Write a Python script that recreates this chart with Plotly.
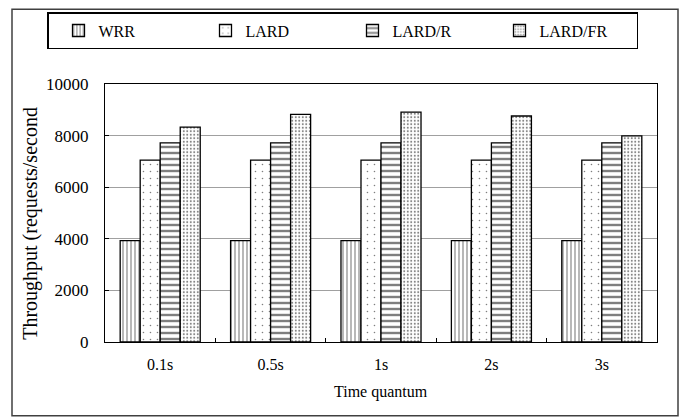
import plotly.graph_objects as go

categories = ["0.1s", "0.5s", "1s", "2s", "3s"]
series_names = ["WRR", "LARD", "LARD/R", "LARD/FR"]
wrr = [3930, 3930, 3930, 3930, 3930]
lard = [7050, 7050, 7050, 7050, 7050]
lard_r = [7720, 7720, 7720, 7720, 7720]
lard_fr = [8330, 8820, 8910, 8760, 7990]
y_ticks = [0, 2000, 4000, 6000, 8000, 10000]

FONT = "Liberation Serif"
W, H = 681, 419
L, R, T, B = 105, 24, 80, 77
pw, ph = W - L - R, H - T - B

def px_x(x):
    return (x - L) / pw

def px_y(y):
    return (H - B - y) / ph

patterns = [
    dict(shape="|", size=4, solidity=0.28, fgcolor="black", bgcolor="white"),
    dict(shape=".", size=7, solidity=0.04, fgcolor="black", bgcolor="white"),
    dict(shape="-", size=6, solidity=0.4, fgcolor="black", bgcolor="white"),
    dict(shape=".", size=3.5, solidity=0.25, fgcolor="black", bgcolor="white"),
]

fig = go.Figure()
for name, vals, pat in zip(series_names, [wrr, lard, lard_r, lard_fr], patterns):
    fig.add_trace(go.Bar(
        x=categories, y=vals, name=name,
        marker=dict(color="white", pattern=pat, line=dict(color="black", width=1.3)),
    ))

fig.update_layout(
    width=W, height=H,
    margin=dict(l=L, r=R, t=T, b=B, pad=0),
    paper_bgcolor="white", plot_bgcolor="white",
    barmode="group", bargap=0.275, bargroupgap=0,
    font=dict(family=FONT, size=15, color="black"),
    showlegend=True,
    legend=dict(
        orientation="h", x=px_x(47), xanchor="left", y=px_y(7), yanchor="top",
        bordercolor="black", borderwidth=1.5, bgcolor="white",
        entrywidth=92, entrywidthmode="pixels", indentation=10,
        font=dict(family=FONT, size=16), traceorder="normal",
    ),
    xaxis=dict(
        showline=True, linecolor="black", linewidth=1.3, mirror=True,
        ticks="inside", tickson="boundaries", ticklen=4, tickcolor="black",
        tickfont=dict(family=FONT, size=16), ticklabelstandoff=8,
        showgrid=False,
    ),
    yaxis=dict(
        range=[0, 10000], tickvals=y_ticks, tickformat="d",
        showline=True, linecolor="black", linewidth=1.3, mirror=True,
        ticks="inside", ticklen=4, tickcolor="black",
        showgrid=True, gridcolor="#a0a0a0", gridwidth=1.3,
        tickfont=dict(family=FONT, size=17), ticklabelstandoff=12,
        zeroline=False,
    ),
    annotations=[
        dict(text="Throughput (requests/second", xref="paper", yref="paper",
             x=px_x(31), y=px_y(222), xanchor="center", yanchor="middle",
             textangle=-90, showarrow=False,
             font=dict(family=FONT, size=20)),
        dict(text="Time quantum", xref="paper", yref="paper",
             x=px_x(381), y=px_y(393), xanchor="center", yanchor="middle",
             showarrow=False,
             font=dict(family=FONT, size=16)),
    ],
    shapes=[
        dict(type="rect", xref="paper", yref="paper",
             x0=px_x(12), x1=px_x(678), y0=px_y(417), y1=px_y(4),
             line=dict(color="#404040", width=1.5), layer="below"),
    ],
)

fig.write_html("out.html", config={"displayModeBar": False},
               post_script="document.body.style.margin='0px';")
